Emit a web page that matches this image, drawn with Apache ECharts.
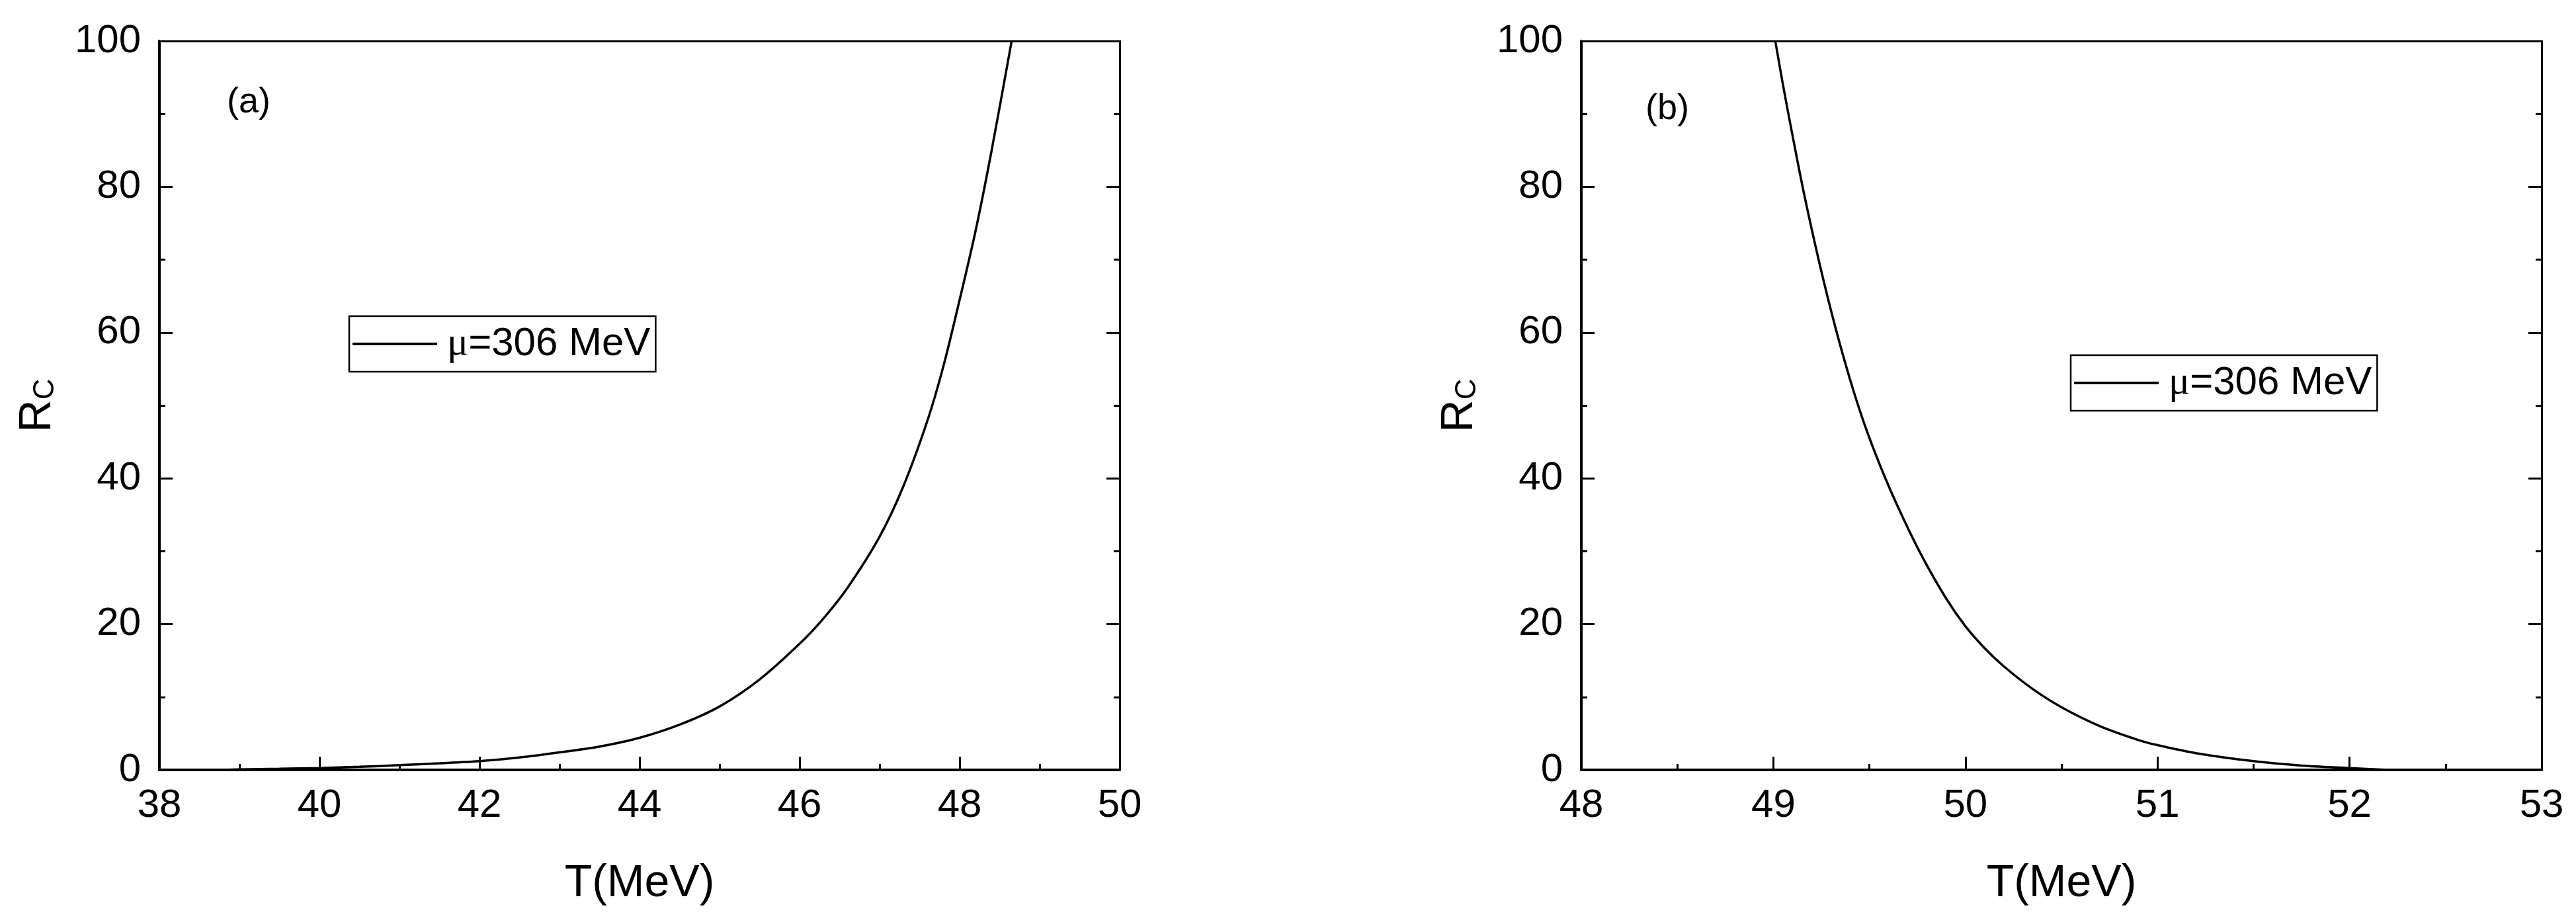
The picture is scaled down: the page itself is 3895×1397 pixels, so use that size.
<!DOCTYPE html>
<html>
<head>
<meta charset="utf-8">
<script src="https://cdn.jsdelivr.net/npm/echarts@6/dist/echarts.min.js"></script>
<style>
  html, body { margin: 0; padding: 0; background: #fff; }
  #chart { width: 3895px; height: 1397px; }
</style>
</head>
<body>
<div id="chart"></div>
<script>
// panel (a): R_C against T
var tempA = [38.8, 39.0, 39.5, 40.0, 40.5, 41.0, 41.5, 42.0, 42.5, 43.0, 43.5, 44.0, 44.5,
             45.0, 45.5, 46.0, 46.3, 46.6, 47.0, 47.3, 47.6, 47.8, 48.0, 48.2, 48.4, 48.65];
var rcA   = [0, 0.07, 0.15, 0.26, 0.42, 0.65, 0.9, 1.2, 1.7, 2.4, 3.2, 4.4, 6.2,
             8.7, 12.4, 17.3, 20.8, 25.0, 32.0, 39.0, 48.0, 55.5, 64.5, 74.0, 85.0, 100];
// panel (b)
var tempB = [49.01, 49.05, 49.1, 49.16, 49.24, 49.32, 49.4, 49.48, 49.58, 49.68, 49.78, 49.9,
             50.0, 50.1, 50.2, 50.35, 50.5, 50.7, 50.9, 51.0, 51.2, 51.5, 51.75, 52.0, 52.2];
var rcB   = [100, 94, 87, 79, 69.5, 61, 53.5, 47, 40.2, 34.3, 29.0, 23.5,
             19.7, 16.7, 14.2, 11.1, 8.6, 6.0, 4.1, 3.4, 2.3, 1.2, 0.6, 0.26, 0];

var seriesName = 'μ=306 MeV';
var panelLabels = ['(a)', '(b)'];
var xRangeA = [38, 50, 2];
var xRangeB = [48, 53, 1];
var yRange = [0, 100, 20];

function pairs(xs, ys) {
  var out = [];
  for (var i = 0; i < xs.length; i++) out.push([xs[i], ys[i]]);
  return out;
}

var font = 'Liberation Sans, Arial, sans-serif';

function bottomAxis(grid, r) {
  return {
    type: 'value', gridIndex: grid, position: 'bottom',
    min: r[0], max: r[1], interval: r[2],
    name: 'T(MeV)', nameLocation: 'middle', nameGap: 138,
    nameTextStyle: { fontSize: 68, color: '#000', fontFamily: font },
    axisLine: { onZero: false, lineStyle: { color: '#000', width: 4 } },
    axisTick: { inside: true, length: 20, lineStyle: { color: '#000', width: 3 } },
    minorTick: { show: true, splitNumber: 2, length: 9, lineStyle: { color: '#000', width: 3 } },
    axisLabel: { fontSize: 60, color: '#000', fontFamily: font, margin: 24, showMinLabel: true, showMaxLabel: true },
    splitLine: { show: false }
  };
}
function topAxis(grid, r) {
  return {
    type: 'value', gridIndex: grid, position: 'top',
    min: r[0], max: r[1], interval: r[2],
    axisLine: { onZero: false, lineStyle: { color: '#000', width: 3 } },
    axisTick: { show: false }, axisLabel: { show: false }, splitLine: { show: false }
  };
}
function leftAxis(grid) {
  return {
    type: 'value', gridIndex: grid, position: 'left',
    min: yRange[0], max: yRange[1], interval: yRange[2],
    name: '{r|R}{s|C}', nameLocation: 'middle', nameGap: 150,
    nameTextStyle: {
      color: '#000', fontFamily: font,
      rich: {
        r: { fontSize: 68, lineHeight: 68, verticalAlign: 'top', fontFamily: font, color: '#000' },
        s: { fontSize: 44, lineHeight: 44, verticalAlign: 'bottom', padding: [36, 0, 0, 0], fontFamily: font, color: '#000' }
      }
    },
    axisLine: { onZero: false, lineStyle: { color: '#000', width: 4 } },
    axisTick: { inside: true, length: 20, lineStyle: { color: '#000', width: 3 } },
    minorTick: { show: true, splitNumber: 2, length: 9, lineStyle: { color: '#000', width: 3 } },
    axisLabel: { fontSize: 60, color: '#000', fontFamily: font, margin: 28 },
    splitLine: { show: false }
  };
}
function rightAxis(grid) {
  return {
    type: 'value', gridIndex: grid, position: 'right',
    min: yRange[0], max: yRange[1], interval: yRange[2],
    axisLine: { onZero: false, lineStyle: { color: '#000', width: 3 } },
    axisTick: { inside: true, length: 20, lineStyle: { color: '#000', width: 3 } },
    minorTick: { show: true, splitNumber: 2, length: 9, lineStyle: { color: '#000', width: 3 } },
    axisLabel: { show: false }, splitLine: { show: false }
  };
}
function legendAt(left, top) {
  return {
    left: left, top: top, orient: 'vertical',
    data: [seriesName], selectedMode: false,
    icon: 'rect', itemWidth: 128, itemHeight: 4,
    padding: [12, 8, 12, 5],
    borderColor: '#000', borderWidth: 2.5, borderRadius: 0,
    formatter: function () { return '{m|μ}{t|=306 MeV}'; },
    textStyle: {
      color: '#000', fontSize: 60, fontFamily: font,
      rich: {
        m: { fontSize: 60, fontFamily: 'Liberation Serif, serif', color: '#000', padding: [0, 0, 0, 10] },
        t: { fontSize: 60, fontFamily: font, color: '#000' }
      }
    }
  };
}

var chart = echarts.init(document.getElementById('chart'));
var option = {
  backgroundColor: '#fff',
  animation: false,
  grid: [
    { left: 241, right: 2202, top: 62, bottom: 233 },
    { left: 2391, right: 52, top: 62, bottom: 233 }
  ],
  xAxis: [bottomAxis(0, xRangeA), topAxis(0, xRangeA), bottomAxis(1, xRangeB), topAxis(1, xRangeB)],
  yAxis: [leftAxis(0), rightAxis(0), leftAxis(1), rightAxis(1)],
  legend: [legendAt(528, 478), legendAt(3131, 537)],
  graphic: [
    { type: 'text', left: 343, top: 128, style: { text: panelLabels[0], fontSize: 54, fontFamily: font, fill: '#000' } },
    { type: 'text', left: 2488, top: 138, style: { text: panelLabels[1], fontSize: 54, fontFamily: font, fill: '#000' } }
  ],
  series: [
    {
      type: 'line', name: seriesName, xAxisIndex: 0, yAxisIndex: 0,
      data: pairs(tempA, rcA), smooth: 0.3, symbol: 'none', clip: true,
      lineStyle: { color: '#000', width: 3.5 }, itemStyle: { color: '#000' }
    },
    {
      type: 'line', name: seriesName, xAxisIndex: 2, yAxisIndex: 2,
      data: pairs(tempB, rcB), smooth: 0.3, symbol: 'none', clip: true,
      lineStyle: { color: '#000', width: 3.5 }, itemStyle: { color: '#000' }
    }
  ]
};
chart.setOption(option);
</script>
</body>
</html>
